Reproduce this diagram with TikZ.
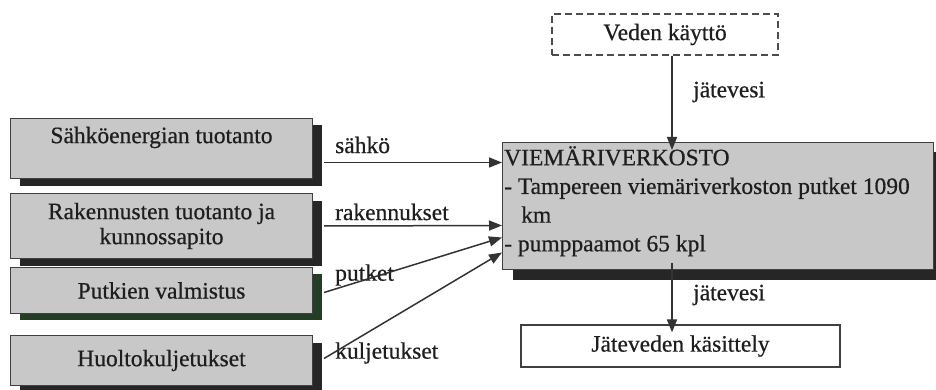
\documentclass[tikz,border=0pt]{standalone}
\usepackage{fontspec}
\setmainfont{Liberation Serif}[FakeBold=0.6]
\usetikzlibrary{shadows,arrows.meta}
\definecolor{boxgray}{RGB}{200,200,200}
\definecolor{inkgray}{RGB}{30,30,30}
\definecolor{shadowgreen}{RGB}{36,62,38}
\begin{document}
\begin{tikzpicture}[x=1pt,y=-1pt,
  box/.style={draw=black!75, line width=1pt, fill=boxgray, inner sep=0pt, align=center},
  shadowed/.style={drop shadow={shadow xshift=9pt, shadow yshift=-7pt, fill=black!85, opacity=1}},
  txt/.style={font=\fontsize{23.5}{25}\selectfont, text=inkgray, inner sep=0pt},
  flow/.style={draw=black!80, line width=1.5pt, -{Triangle[length=13pt,width=10pt]}},
]
\useasboundingbox (0,0) rectangle (936,390);

% supplying processes on the left
\node[box, shadowed, anchor=north west, minimum width=302pt, minimum height=60pt] (b1) at (10,118) {};
\node[txt] (t1) at ([yshift=11pt]b1.center) {Sähköenergian tuotanto};
\node[box, shadowed, txt, anchor=north west, minimum width=302pt, minimum height=65pt] (b2) at (10,193) {Rakennusten tuotanto ja\\kunnossapito};
\node[box, txt, anchor=north west, minimum width=302pt, minimum height=46pt,
      drop shadow={shadow xshift=9pt, shadow yshift=-6pt, fill=shadowgreen, opacity=1}] (b3) at (10,267) {Putkien valmistus};
\node[box, shadowed, txt, anchor=north west, minimum width=302pt, minimum height=50pt] (b4) at (10,335) {Huoltokuljetukset};

% sewer network
\node[box, anchor=north west, minimum width=431pt, minimum height=127pt,
      drop shadow={shadow xshift=10pt, shadow yshift=-10pt, fill=black!85, opacity=1}] (main) at (502,142) {};
\node[txt, anchor=north west, align=left, font=\fontsize{23.5}{28.7}\selectfont] (mt) at (504,146)
  {VIEMÄRIVERKOSTO\\- Tampereen viemäriverkoston putket 1090\\\hspace*{17pt}km\\- pumppaamot 65 kpl};

% water use and treatment
\node[draw=black!70, dash pattern=on 7pt off 4pt, line width=1.5pt, minimum width=226pt, minimum height=41pt, txt] (vk) at (665,34.5) {Veden käyttö};
\node[draw=black!75, line width=1.2pt, minimum width=319pt, minimum height=42pt, txt] (jk) at (680.5,346) {Jäteveden käsittely};

% flow labels
\node[txt, anchor=west] (l1) at (335,145) {sähkö};
\node[txt, anchor=west] (l2) at (335,212) {rakennukset};
\node[txt, anchor=west] (l3) at (335,275) {putket};
\node[txt, anchor=west] (l4) at (335,353) {kuljetukset};
\node[txt, anchor=west] (l5) at (693,92) {jätevesi};
\node[txt, anchor=west] (l6) at (693,295) {jätevesi};

% flows
\draw[flow] ([shift={(11,14)}]b1.east) -- ([yshift=43.5pt]main.west);
\draw[flow] ([shift={(11,0)}]b2.east) -- ([yshift=-19.5pt]main.west);
\draw[flow] ([shift={(11,2)}]b3.east) -- ([yshift=-31.5pt]main.west);
\draw[flow] ([shift={(11,-2)}]b4.east) -- ([yshift=-46.5pt]main.west);

\coordinate (vout) at ([xshift=7pt]vk.south);
\draw[flow, shorten >=-8pt] (vout) -- (vout |- main.north);
\coordinate (jin) at ([xshift=-8.5pt]jk.north);
\draw[flow, shorten <=-7pt, shorten >=-8pt] (jin |- main.south) -- (jin);
\end{tikzpicture}
\end{document}
